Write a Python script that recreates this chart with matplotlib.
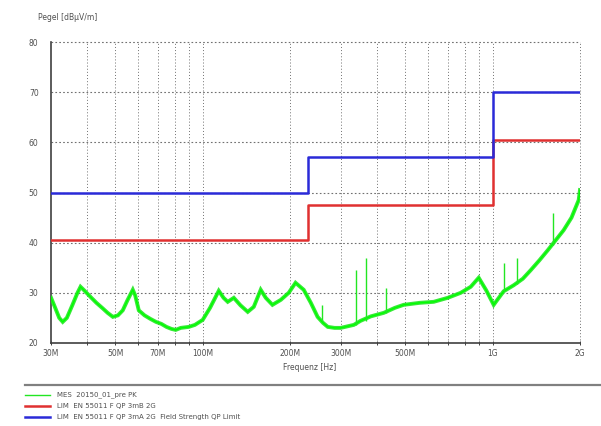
import matplotlib
matplotlib.use("Agg")
import matplotlib.pyplot as plt
import numpy as np

# measured trace (MHz, dBuV/m)
mes_freq = [30, 31, 32, 32.9, 34, 35.5, 37, 37.9, 39, 41, 43, 45, 47, 49, 51, 53, 55,
            57.4, 58.5, 60.2, 63, 66, 69, 72, 75, 78, 80.7, 84, 89.5, 94, 100, 106,
            113.6, 118, 122, 128, 135, 143, 150, 158.5, 165, 174, 186, 198, 209, 223,
            236, 249, 260, 270, 285, 299, 315, 332, 350, 380, 421, 460, 493, 560, 626,
            700, 776, 840, 895, 950, 1008, 1050, 1091, 1181, 1270, 1352, 1450, 1549,
            1650, 1757, 1870, 1980, 2000]
mes_level = [29.0, 27.0, 25.0, 24.2, 25.0, 27.5, 30.0, 31.2, 30.5, 29.2, 28.0, 27.0,
             26.0, 25.2, 25.5, 26.5, 28.5, 30.6, 29.5, 26.5, 25.5, 24.8, 24.2, 23.8,
             23.2, 22.8, 22.6, 23.0, 23.2, 23.6, 24.6, 27.0, 30.4, 29.0, 28.2, 29.0,
             27.5, 26.2, 27.2, 30.6, 29.0, 27.6, 28.6, 30.0, 32.0, 30.6, 28.0, 25.2,
             24.0, 23.2, 23.0, 23.0, 23.3, 23.6, 24.4, 25.3, 26.0, 27.0, 27.6, 28.0,
             28.2, 29.0, 30.0, 31.2, 33.0, 30.5, 27.6, 29.0, 30.3, 31.5, 32.8, 34.5,
             36.5, 38.5, 40.5, 42.5, 45.0, 48.5, 50.5]

# narrow peaks on the trace
spike_freq = [257, 339, 365, 428, 1091, 1211, 1610]
spike_base = [24.6, 23.6, 24.4, 26.0, 30.3, 31.8, 39.5]
spike_top = [27.6, 34.5, 37.0, 31.0, 36.0, 37.0, 46.0]

# limit lines (band edges in MHz, level per band)
lim_edges = [30, 230, 1000, 2000]
lim_b = [40.5, 47.5, 60.5]
lim_a = [50, 57, 70]

legend_labels = ["MES  20150_01_pre PK",
                 "LIM  EN 55011 F QP 3mB 2G",
                 "LIM  EN 55011 F QP 3mA 2G  Field Strength QP Limit"]

x_ticks = [30, 50, 70, 100, 200, 300, 500, 1000, 2000]
x_ticklabels = ["30M", "50M", "70M", "100M", "200M", "300M", "500M", "1G", "2G"]
x_grid = [40, 50, 60, 70, 80, 90, 100, 200, 300, 400, 500, 600, 700, 800, 900, 1000]
y_ticks = [20, 30, 40, 50, 60, 70, 80]

green = "#22e622"
red = "#e03030"
blue = "#2a2ad8"
txt = "#505050"
gridc = "#707070"

fig = plt.figure(figsize=(6.01, 4.26), dpi=100)
ax = fig.add_axes([0.085, 0.195, 0.88, 0.706])
ax.set_xscale("log")
ax.set_xlim(30, 2000)
ax.set_ylim(20, 80)

for f in x_grid + [2000]:
    ax.axvline(f, color=gridc, lw=0.7, ls=(0, (1.0, 2.2)), zorder=1, clip_on=False)
for v in y_ticks[1:]:
    ax.axhline(v, color=gridc, lw=0.8, ls=(0, (1.5, 2.0)), zorder=1, clip_on=False)

ax.plot(mes_freq, mes_level, color=green, lw=2.8, alpha=0.9, zorder=3,
        solid_joinstyle="miter")
ax.plot(mes_freq, mes_level, color="#00ff00", lw=1.0, zorder=3)
ax.vlines(spike_freq, spike_base, spike_top, color=green, lw=1.0, zorder=3)

ax.step(lim_edges, lim_b + [lim_b[-1]], where="post", color=red, lw=1.8, zorder=4)
ax.step(lim_edges, lim_a + [lim_a[-1]], where="post", color=blue, lw=1.8, zorder=4)

ax.set_xticks(x_ticks)
ax.set_xticklabels(x_ticklabels)
ax.xaxis.set_minor_locator(matplotlib.ticker.FixedLocator(x_grid))
ax.xaxis.set_minor_formatter(matplotlib.ticker.NullFormatter())
ax.set_yticks(y_ticks)
ax.tick_params(axis="both", which="both", labelsize=5.5, labelcolor=txt,
               color="#404040", direction="inout", length=3, width=0.7)
ax.tick_params(axis="y", length=0, pad=9)
ax.tick_params(axis="x", pad=3)
for s in ["top", "right"]:
    ax.spines[s].set_visible(False)
for s in ["left", "bottom"]:
    ax.spines[s].set_color("#404040")
    ax.spines[s].set_linewidth(1.2)

fig.text(38 / 601, 1 - 18 / 426, "Pegel [dBµV/m]", fontsize=5.5, color=txt,
         ha="left", va="center")
fig.text(310 / 601, 1 - 367 / 426, "Frequenz [Hz]", fontsize=5.5, color=txt,
         ha="center", va="center")

# separator line and legend beneath the plot
fig.add_artist(plt.Line2D([25 / 601, 1.0], [1 - 385 / 426] * 2, color="#808080",
                          lw=1.6, transform=fig.transFigure))
for i, (lab, col) in enumerate(zip(legend_labels, [green, red, blue])):
    y = 1 - (395 + 11 * i) / 426
    fig.add_artist(plt.Line2D([25 / 601, 50 / 601], [y, y], color=col,
                              lw=1.0 if i == 0 else 1.8, transform=fig.transFigure))
    fig.text(57 / 601, y, lab, fontsize=5.0, color=txt, ha="left", va="center")

fig.savefig("out.png", dpi=100)
